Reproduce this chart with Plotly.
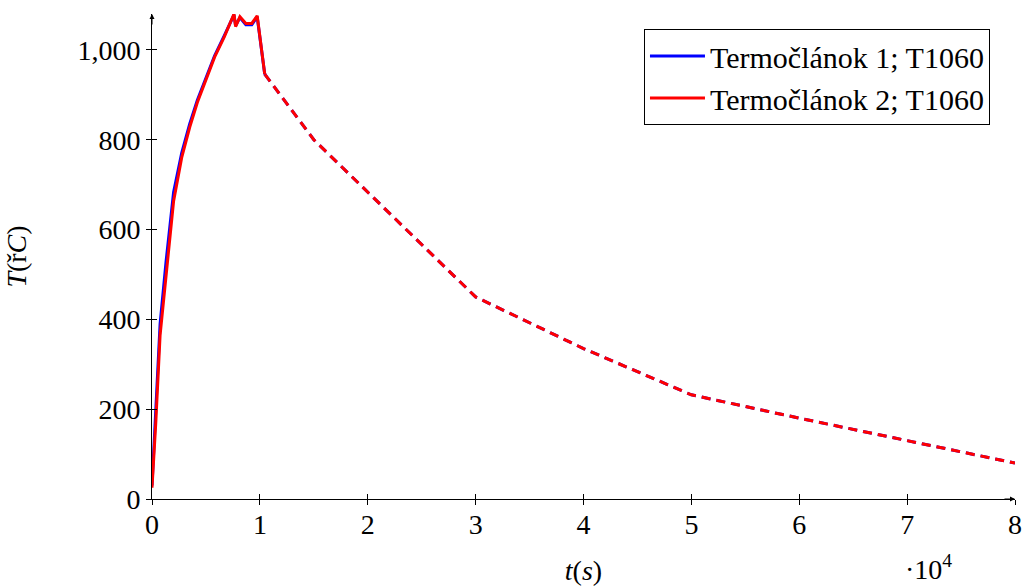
import plotly.graph_objects as go

# ---- data ----
t_solid_1 = [0, 350, 750, 1300, 2000, 2750, 3500, 4200, 5000, 5800, 6700, 7600, 7750, 8150, 8700, 9250, 9750, 10450]
T_solid_1 = [30, 195, 390, 528, 683, 770, 836, 888, 938, 987, 1032, 1078, 1054, 1072, 1056, 1056, 1074, 946]
t_solid_2 = [0, 350, 750, 1300, 2000, 2750, 3500, 4200, 5000, 5800, 6700, 7600, 7750, 8150, 8700, 9250, 9750, 10450]
T_solid_2 = [25, 170, 365, 503, 663, 760, 828, 883, 933, 984, 1029, 1080, 1052, 1074, 1059, 1059, 1076, 946]
t_dash = [10450, 15000, 30000, 40000, 50000, 60000, 70000, 80000]
T_dash_1 = [946, 800, 450, 335, 232, 180, 130, 80]
T_dash_2 = [946, 800, 450, 335, 232, 180, 130, 80]

x_ticks = [0, 10000, 20000, 30000, 40000, 50000, 60000, 70000, 80000]
x_ticktext = ["0", "1", "2", "3", "4", "5", "6", "7", "8"]
y_ticks = [0, 200, 400, 600, 800, 1000]
names = ["Termočlánok 1; T1060", "Termočlánok 2; T1060"]
colors = ["#0000ff", "#ff0000"]

X_RANGE = [0, 80000]
Y_RANGE = [0, 1080]
FONT = "Times New Roman"

fig = go.Figure()
fig.add_trace(go.Scatter(x=t_dash, y=T_dash_1, mode="lines", showlegend=False,
                         line=dict(color=colors[0], width=3, dash="9px,6px")))
fig.add_trace(go.Scatter(x=t_dash, y=T_dash_2, mode="lines", showlegend=False,
                         line=dict(color=colors[1], width=3, dash="9px,6px")))
fig.add_trace(go.Scatter(x=t_solid_1, y=T_solid_1, mode="lines", name=names[0],
                         line=dict(color=colors[0], width=3)))
fig.add_trace(go.Scatter(x=t_solid_2, y=T_solid_2, mode="lines", name=names[1],
                         line=dict(color=colors[1], width=3)))
# dummy trace to create the overlay axes used for the other tick halves
fig.add_trace(go.Scatter(x=[None], y=[None], xaxis="x2", yaxis="y2", showlegend=False, hoverinfo="skip"))

axis_common = dict(showgrid=False, zeroline=False, linecolor="black", linewidth=1,
                   tickcolor="black", tickwidth=1, ticklen=5, automargin=False,
                   tickfont=dict(family=FONT, size=28, color="black"))

fig.update_layout(
    width=1022, height=586,
    margin=dict(l=152, r=7, t=14, b=87),
    plot_bgcolor="white", paper_bgcolor="white",
    font=dict(family=FONT, color="black"),
    xaxis=dict(range=X_RANGE, tickvals=x_ticks, ticktext=x_ticktext, ticks="inside",
               showline=True, **axis_common,
               title=dict(text="<i>t</i>(<i>s</i>)", font=dict(family=FONT, size=28), standoff=28)),
    yaxis=dict(range=Y_RANGE, tickvals=y_ticks, tickformat=",", ticks="outside",
               showline=True, **axis_common,
               title=dict(text="<i>T</i>(ř<i>C</i>)", font=dict(family=FONT, size=28), standoff=42)),
    xaxis2=dict(range=X_RANGE, tickvals=x_ticks, ticks="outside", showticklabels=False,
                overlaying="x", side="bottom", showline=False, showgrid=False, zeroline=False,
                tickcolor="black", ticklen=5, tickwidth=1),
    yaxis2=dict(range=Y_RANGE, tickvals=y_ticks, ticks="inside", showticklabels=False,
                overlaying="y", showline=False, showgrid=False, zeroline=False,
                tickcolor="black", ticklen=5, tickwidth=1),
    legend=dict(x=0.971, y=0.969, xanchor="right", yanchor="top",
                bordercolor="black", borderwidth=1, bgcolor="white",
                font=dict(family=FONT, size=30, color="black"),
                tracegroupgap=0, itemwidth=55),
    showlegend=True,
)

# axis arrow heads
fig.add_annotation(x=80000, y=0, xref="x", yref="y", ax=-12, ay=0, axref="pixel", ayref="pixel",
                   text="", showarrow=True, arrowhead=2, arrowsize=1, arrowwidth=1, arrowcolor="black")
fig.add_annotation(x=0, y=1080, xref="x", yref="y", ax=0, ay=12, axref="pixel", ayref="pixel",
                   text="", showarrow=True, arrowhead=2, arrowsize=1, arrowwidth=1, arrowcolor="black")
# scale factor label
fig.add_annotation(x=0.9, y=-0.142, xref="paper", yref="paper", xanchor="center", yanchor="middle",
                   text="·10<sup>4</sup>", showarrow=False, font=dict(family=FONT, size=28, color="black"))

fig.write_html("out.html")
